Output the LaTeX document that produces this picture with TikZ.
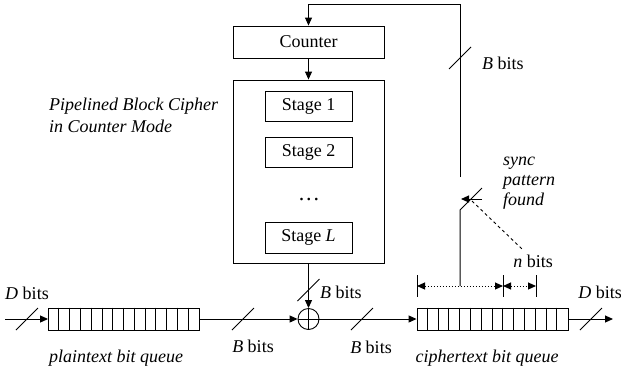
\documentclass[tikz,border=0pt]{standalone}
\usepackage{fontspec}
\setmainfont{Liberation Serif}
\usetikzlibrary{arrows.meta,calc}
\tikzset{
  x=1pt, y=-1pt,
  every node/.style={font=\fontsize{18}{20}\selectfont, inner sep=0pt},
  box/.style={draw, line width=0.9pt},
  arr/.style={line width=1pt, -{Triangle[length=8pt,width=7pt]}},
  conn/.style={line width=1pt},
  bitslash/.pic={\draw[line width=0.9pt] (-11,11) -- (11,-11);},
  queue/.style={draw, line width=0.9pt, minimum width=151pt, minimum height=22pt},
  dim/.style={dotted, line width=1pt, {Triangle[length=8pt,width=7pt]}-{Triangle[length=8pt,width=7pt]}},
}
\begin{document}
\begin{tikzpicture}
\useasboundingbox (0,0) rectangle (621,373);
% cipher
\node[box, minimum width=151pt, minimum height=32pt] (counter) at (308.5,42) {Counter};
\node[box, minimum width=151pt, minimum height=183pt] (cipher) at (308.5,171.5) {};
\node[box, minimum width=87pt, minimum height=30pt] (s1) at (308.5,106) {Stage 1};
\node[box, minimum width=87pt, minimum height=30pt] (s2) at (308.5,152) {Stage 2};
\node[font=\fontsize{22}{22}\selectfont, anchor=base] (dots) at (309,200) {.\kern2pt.\kern2pt.};
\node[box, minimum width=87pt, minimum height=31pt] (sL) at (308.5,237.5) {Stage \textit{L}};
\node[align=left, anchor=west, font=\fontsize{18}{22}\selectfont\itshape] (title) at (49,115) {Pipelined Block Cipher\\in Counter Mode};
% xor
\node[draw, circle, line width=0.9pt, minimum size=21pt] (xor) at (308.5,319) {};
\draw[line width=0.9pt] (xor.north) -- (xor.south) (xor.west) -- (xor.east);
% queues
\node[queue] (pq) at (124,319) {};
\foreach \i in {1,...,13} \draw[line width=0.9pt] ($(pq.north west)+(\i*151/14,0)$) -- ($(pq.south west)+(\i*151/14,0)$);
\node[queue] (cq) at (492.5,319) {};
\foreach \i in {1,...,13} \draw[line width=0.9pt] ($(cq.north west)+(\i*151/14,0)$) -- ($(cq.south west)+(\i*151/14,0)$);
% coordinates
\coordinate (in) at (5,319);
\coordinate (out) at (613,319);
\coordinate (corner) at (460,4);
\coordinate (swtop) at (460,177);
\coordinate (swbot) at (460,210);
\coordinate (lever) at (482,188);
\coordinate (dimmid) at (460,286);
\coordinate (dimL) at (417,286);
\coordinate (dimM) at (503,286);
\coordinate (dimR) at (536,286);
\coordinate (ctl) at (461,199);
\coordinate (ctlb) at (482,199);
\coordinate (dashA) at (472,201);
\coordinate (dashB) at (522,249);
% connectors
\draw[arr] (in) -- (pq.west);
\draw[arr] (pq.east) -- (xor.west);
\draw[arr] (cipher.south) -- (xor.north);
\draw[arr] (xor.east) -- (cq.west);
\draw[arr] (cq.east) -- (out);
\draw[arr] (counter.south) -- (cipher.north);
\draw[arr] (swtop) -- (corner) -| (counter.north);
\draw[conn] (dimmid) -- (swbot) -- (lever);
\draw[arr] (ctlb) -- (ctl);
\draw[dashed, line width=0.9pt] (dashA) -- (dashB);
% dimension
\draw[dim] (dimL) -- (dimM);
\draw[dim] (dimM) -- (dimR);
\foreach \c in {dimL,dimM,dimR} \draw[line width=0.9pt] ($(\c)+(0,-11)$) -- ($(\c)+(0,11)$);
% slashes
\pic at (27,319) {bitslash};
\pic at (243,319) {bitslash};
\pic at (362,319) {bitslash};
\pic at (591,319) {bitslash};
\pic at (308.5,290) {bitslash};
\pic at (460,58) {bitslash};
% labels
\node (l1) at (27,293) {\textit{D} bits};
\node (l2) at (253,346) {\textit{B} bits};
\node (l3) at (116,358) {\textit{plaintext bit queue}};
\node[anchor=west] (l4) at (320,292) {\textit{B} bits};
\node (l5) at (371,347) {\textit{B} bits};
\node (l6) at (487,358) {\textit{ciphertext bit queue}};
\node (l7) at (600,292) {\textit{D} bits};
\node (l8) at (533,261) {\textit{n} bits};
\node[anchor=west] (l9) at (482,63) {\textit{B} bits};
\node[align=left, anchor=west, font=\fontsize{18}{20}\selectfont\itshape] (l10) at (503,183) {sync\\pattern\\found};
\end{tikzpicture}
\end{document}
